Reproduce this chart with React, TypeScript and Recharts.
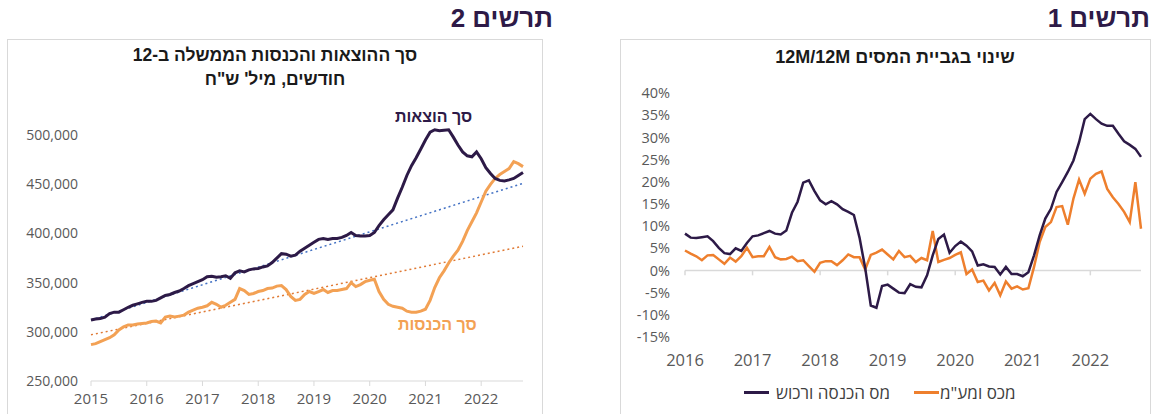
import React from "react";
import { LineChart, Line, XAxis, YAxis, ReferenceLine } from "recharts";

const FONT = '"Open Sans", "Liberation Sans", "DejaVu Sans", sans-serif';
const PURPLE = "#2D1A47";
const AXIS = "#D9D9D9";
const TICK_TEXT = "#595959";

// chart 2: government spending / revenue, rolling 12 months, NIS m (Jan 2015 .. Oct 2022)
const leftYears = ["2015", "2016", "2017", "2018", "2019", "2020", "2021", "2022"];
const leftTicks = [250000, 300000, 350000, 400000, 450000, 500000];
const spendTotal = [
  312000, 313000, 313500, 315000, 318500, 320000, 320000, 322500, 325000, 327000, 328500, 330000,
  331000, 331000, 332000, 334500, 337000, 338000, 340000, 341500, 344000, 347000, 349000, 351000,
  353000, 356000, 356500, 355500, 356000, 357000, 354500, 360000, 362000, 361000, 363000, 364000,
  364500, 366000, 367000, 370500, 375000, 379500, 379000, 377000, 378000, 382000, 385000, 388000,
  391000, 394000, 395000, 394000, 395000, 395000, 396000, 398000, 401000, 398000, 397500, 397500,
  398000, 401000, 408000, 414000, 419000, 424000, 436000, 447000, 459000, 469000, 477000, 486000,
  495000, 503000, 505500, 504500, 505000, 505500, 498000, 490000, 483000, 479000, 478000, 483000,
  476000, 467000, 461000, 456000, 454000, 453500, 454500, 456000, 459000, 462000,
];
const revenueTotal = [
  287000, 288000, 290000, 292000, 294000, 297000, 302000, 305000, 307000, 307000, 308000, 308500,
  309000, 310500, 311000, 309000, 315000, 316000, 315000, 316000, 317000, 320000, 322000, 324000,
  325000, 326500, 330000, 328000, 325000, 327000, 330000, 333000, 344000, 342000, 338000, 339000,
  341000, 342000, 344000, 344500, 346500, 347000, 343000, 336000, 332000, 333000, 338000, 341000,
  339000, 341000, 343000, 340000, 342000, 342000, 343000, 344000, 350000, 346000, 348000, 351000,
  352500, 353500, 341000, 333000, 328000, 326000, 325000, 324000, 321000, 320000, 320000, 321000,
  323000, 332000, 345000, 355000, 362000, 370000, 377000, 383000, 392000, 403000, 412000, 421000,
  432000, 443000, 450000, 456000, 460000, 463000, 466000, 473000, 471000, 468000,
];
// linear trend lines, start and end values
const spendTrendEnds = [312000, 451000];
const revenueTrendEnds = [297000, 387000];

// chart 1: change in tax collection 12M/12M, % (Jan 2016 .. Oct 2022)
const rightYears = ["2016", "2017", "2018", "2019", "2020", "2021", "2022"];
const pctTicks = [-15, -10, -5, 0, 5, 10, 15, 20, 25, 30, 35, 40];
const incomeTax = [
  8.3, 7.4, 7.3, 7.5, 7.7, 6.6, 5.1, 3.9, 3.7, 5.0, 4.4, 6.2,
  7.7, 7.9, 8.4, 8.9, 8.3, 8.1, 9.0, 13.0, 15.5, 19.8, 20.3, 17.9,
  15.8, 14.9, 15.6, 14.9, 13.8, 13.2, 12.5, 7.4, 0.6, -7.9, -8.4, -3.5,
  -3.2, -4.1, -5.0, -5.1, -3.1, -3.7, -3.8, -1.1, 3.4, 7.1, 8.1, 4.0,
  5.5, 6.5, 5.6, 4.3, 1.1, 1.4, 0.9, 0.8, -0.9, 0.8, -0.8, -0.8,
  -1.3, -0.4, 3.4, 7.9, 11.7, 13.9, 17.7, 19.9, 22.2, 24.8, 28.9, 34.1,
  35.3, 34.1, 33.1, 32.6, 32.6, 30.8, 29.1, 28.3, 27.4, 25.6,
];
const customsVat = [
  4.5, 3.8, 3.2, 2.3, 3.4, 3.5, 2.5, 1.5, 2.9, 2.0, 3.2, 5.1,
  3.0, 3.2, 3.2, 5.3, 3.0, 2.5, 2.6, 3.1, 2.1, 2.3, 1.0, -0.3,
  1.7, 2.1, 2.1, 1.2, 2.3, 3.6, 3.0, 3.0, 0.2, 3.5, 4.0, 4.7,
  3.6, 2.5, 4.4, 3.0, 3.3, 1.9, 2.8, 2.3, 8.9, 1.9, 2.4, 2.8,
  3.5, 4.1, -0.8, 0.2, -2.6, -2.3, -4.5, -2.8, -5.6, -2.5, -4.1, -3.6,
  -4.3, -4.0, 0.8, 6.4, 9.8, 10.9, 14.3, 14.5, 10.3, 16.2, 20.5, 17.3,
  20.7, 21.8, 22.3, 18.4, 16.5, 15.0, 13.2, 10.9, 19.9, 9.4,
];

const leftData = spendTotal.map((v, i) => ({
  t: i,
  spend: v,
  revenue: revenueTotal[i],
  spendTrend: i === 0 ? spendTrendEnds[0] : i === spendTotal.length - 1 ? spendTrendEnds[1] : null,
  revenueTrend: i === 0 ? revenueTrendEnds[0] : i === spendTotal.length - 1 ? revenueTrendEnds[1] : null,
}));
const leftYearTicks = leftYears.map((_, i) => i * 12);

const rightData = incomeTax.map((v, i) => ({ t: i, income: v, vat: customsVat[i] }));
const rightYearTicks = rightYears.map((_, i) => i * 12);

const boxStyle: React.CSSProperties = {
  position: "absolute",
  top: 39,
  height: 400,
  border: `1px solid ${AXIS}`,
  boxSizing: "border-box",
};

const figTitle: React.CSSProperties = {
  position: "absolute",
  top: 3,
  fontFamily: '"Liberation Sans", Arial, sans-serif',
  fontWeight: 700,
  fontSize: 26,
  color: "#2E1A47",
  direction: "rtl",
  whiteSpace: "nowrap",
};

const chartTitle: React.CSSProperties = {
  position: "absolute",
  textAlign: "center",
  fontFamily: '"Liberation Sans", Arial, sans-serif',
  fontWeight: 700,
  fontSize: 17.5,
  color: "#1A1A1A",
  direction: "rtl",
};

function SpendRevenueChart() {
  return (
    <LineChart
      width={560}
      height={414}
      data={leftData}
      margin={{ top: 86, right: 37, bottom: 3, left: 0 }}
      style={{ position: "absolute", left: 0, top: 0 }}
    >
      <XAxis
        type="number"
        dataKey="t"
        domain={[0, spendTotal.length - 1]}
        ticks={leftYearTicks}
        tickFormatter={(v) => leftYears[v / 12]}
        stroke={AXIS}
        tickSize={5}
        tickMargin={7}
        height={30}
        tick={{ fill: TICK_TEXT, fontSize: 15, fontFamily: FONT }}
      />
      <YAxis
        domain={[250000, 550000]}
        ticks={leftTicks}
        tickFormatter={(v) => v.toLocaleString("en-US")}
        axisLine={false}
        tickLine={false}
        tickSize={0}
        tickMargin={13}
        width={91}
        tick={{ fill: TICK_TEXT, fontSize: 14, fontFamily: FONT }}
      />
      <Line dataKey="spendTrend" stroke="#4472C4" strokeWidth={1.5} strokeDasharray="2 3" dot={false} connectNulls isAnimationActive={false} />
      <Line dataKey="revenueTrend" stroke="#E07A35" strokeWidth={1.5} strokeDasharray="2 3" dot={false} connectNulls isAnimationActive={false} />
      <Line dataKey="revenue" stroke="#F3A154" strokeWidth={3} dot={false} type="linear" isAnimationActive={false} />
      <Line dataKey="spend" stroke={PURPLE} strokeWidth={3} dot={false} type="linear" isAnimationActive={false} />
    </LineChart>
  );
}

function TaxChangeChart() {
  return (
    <LineChart
      width={554}
      height={414}
      data={rightData}
      margin={{ top: 93, right: 13, bottom: 47, left: 0 }}
      style={{ position: "absolute", left: 600, top: 0 }}
    >
      <XAxis
        type="number"
        dataKey="t"
        domain={[0, incomeTax.length - 1]}
        ticks={rightYearTicks}
        tickFormatter={(v) => rightYears[v / 12]}
        axisLine={false}
        tickLine={false}
        tickSize={0}
        tickMargin={17}
        height={30}
        tick={{ fill: TICK_TEXT, fontSize: 16.5, fontFamily: FONT }}
      />
      <YAxis
        domain={[-15, 40]}
        ticks={pctTicks}
        tickFormatter={(v) => `${v}%`}
        axisLine={false}
        tickLine={false}
        tickSize={0}
        tickMargin={15}
        width={85}
        tick={{ fill: TICK_TEXT, fontSize: 14.5, fontFamily: FONT }}
      />
      <ReferenceLine y={0} stroke={AXIS} strokeWidth={1.5} />
      {rightYearTicks.map((t) => (
        <ReferenceLine key={t} segment={[{ x: t, y: 0 }, { x: t, y: -1.1 }]} stroke={AXIS} strokeWidth={1.5} />
      ))}
      <Line dataKey="vat" stroke="#EE7F2D" strokeWidth={2.5} dot={false} type="linear" isAnimationActive={false} />
      <Line dataKey="income" stroke={PURPLE} strokeWidth={2.5} dot={false} type="linear" isAnimationActive={false} />
    </LineChart>
  );
}

function LegendItem({ color, label, gap }: { color: string; label: string; gap: number }) {
  return (
    <div style={{ display: "flex", alignItems: "center" }}>
      <div style={{ width: 25, height: 3, background: color, marginRight: gap }} />
      <span style={{ direction: "rtl", whiteSpace: "nowrap" }}>{label}</span>
    </div>
  );
}

export default function App() {
  return (
    <div
      style={{
        position: "absolute",
        left: 0,
        top: 0,
        width: 1154,
        height: 414,
        background: "#fff",
        overflow: "hidden",
        fontFamily: FONT,
      }}
    >
      <div style={{ ...boxStyle, left: 7, width: 536 }} />
      <div style={{ ...boxStyle, left: 620, width: 531 }} />

      <div style={{ ...figTitle, right: 1154 - 553 }}>תרשים 2</div>
      <div style={{ ...figTitle, right: 4 }}>תרשים 1</div>

      <div style={{ ...chartTitle, left: 7, width: 536, top: 43, lineHeight: "24px" }}>
        סך ההוצאות והכנסות הממשלה ב-12
        <br />
        חודשים, מיל' ש"ח
      </div>
      <div style={{ ...chartTitle, left: 620, width: 550, top: 45, lineHeight: "24px", fontSize: 18 }}>
        שינוי בגביית המסים 12M/12M
      </div>

      <SpendRevenueChart />
      <TaxChangeChart />

      <div
        style={{
          position: "absolute",
          left: 395,
          top: 108,
          fontFamily: '"Liberation Sans", Arial, sans-serif',
          fontWeight: 700,
          fontSize: 16,
          color: PURPLE,
          direction: "rtl",
          whiteSpace: "nowrap",
        }}
      >
        סך הוצאות
      </div>
      <div
        style={{
          position: "absolute",
          left: 398,
          top: 316,
          fontFamily: '"Liberation Sans", Arial, sans-serif',
          fontWeight: 700,
          fontSize: 16,
          color: "#F3A154",
          direction: "rtl",
          whiteSpace: "nowrap",
        }}
      >
        סך הכנסות
      </div>

      <div
        style={{
          position: "absolute",
          left: 744,
          top: 381,
          display: "flex",
          gap: 24,
          fontSize: 17,
          color: "#404040",
        }}
      >
        <LegendItem color={PURPLE} label="מס הכנסה ורכוש" gap={7} />
        <LegendItem color="#EE7F2D" label='מכס ומע"מ' gap={1} />
      </div>
    </div>
  );
}
